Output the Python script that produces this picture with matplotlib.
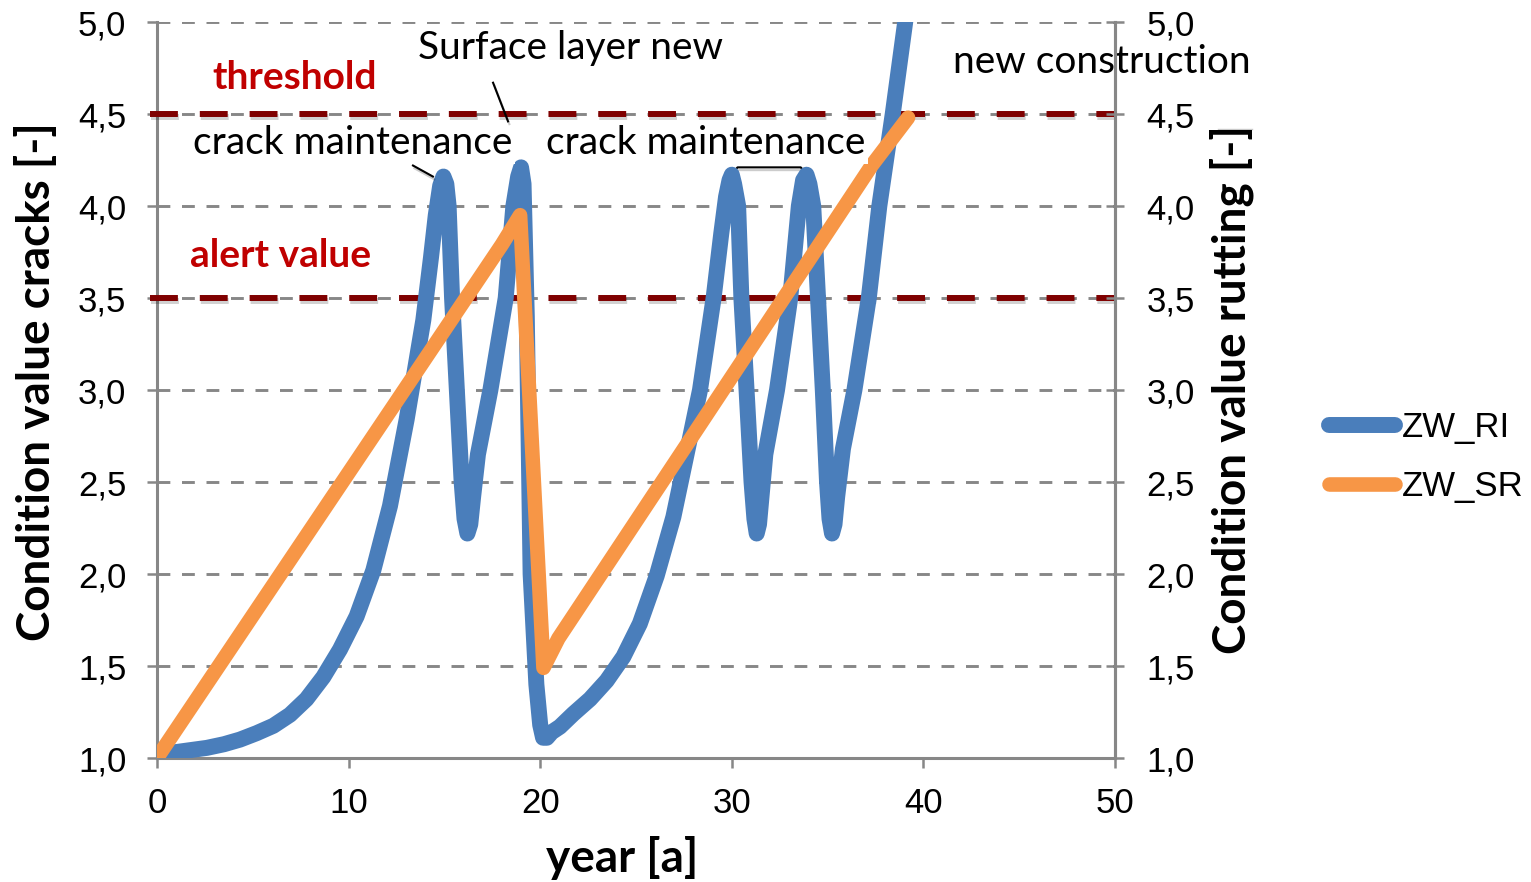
import matplotlib
matplotlib.use('Agg')
import matplotlib.pyplot as plt
import matplotlib.patheffects as pe
from matplotlib.lines import Line2D

# ---------------- data ----------------
years_ri = [0.0, 0.84, 2.6, 3.5, 4.33, 5.2, 6.07, 6.94, 7.8, 8.68, 9.55, 10.42, 11.29, 12.16, 13.03,
            13.9, 14.3, 14.55, 14.78, 14.95, 15.1, 15.22, 15.4, 15.65, 15.9, 16.05, 16.2, 16.35,
            16.5, 16.75, 17.4, 18.2, 18.6, 18.85, 19.0, 19.13, 19.3, 19.5, 19.8, 20.0, 20.15,
            20.35, 20.6, 21.03, 21.73, 22.6, 23.47, 24.34, 25.2, 26.08, 26.95, 27.8, 28.34, 29.05,
            29.45, 29.7, 29.88, 30.0, 30.12, 30.33, 30.5, 30.77, 31.03, 31.18, 31.3, 31.42, 31.55,
            31.75, 32.36, 33.05, 33.5, 33.72, 33.9, 34.05, 34.25, 34.5, 34.75, 34.97, 35.1, 35.23,
            35.36, 35.5, 35.8, 36.4, 37.15, 37.7, 38.4, 39.05, 39.3]
zw_ri = [1.00, 1.03, 1.055, 1.075, 1.10, 1.135, 1.175, 1.235, 1.32, 1.44, 1.59, 1.77, 2.02, 2.37, 2.84,
         3.38, 3.72, 3.95, 4.11, 4.16, 4.12, 4.00, 3.50, 3.00, 2.50, 2.30, 2.22, 2.27,
         2.42, 2.65, 3.00, 3.50, 4.00, 4.16, 4.21, 4.12, 3.40, 2.00, 1.40, 1.18, 1.11,
         1.11, 1.14, 1.17, 1.24, 1.32, 1.42, 1.55, 1.73, 1.99, 2.31, 2.73, 3.00, 3.50,
         3.85, 4.05, 4.14, 4.17, 4.12, 4.00, 3.50, 3.00, 2.50, 2.30, 2.22, 2.27, 2.42,
         2.65, 3.00, 3.50, 4.00, 4.14, 4.17, 4.12, 4.00, 3.50, 3.00, 2.50, 2.30, 2.22,
         2.27, 2.42, 2.68, 3.00, 3.50, 4.00, 4.50, 5.00, 5.20]

years_sr = [0.0, 18.0, 18.95, 20.17, 20.95, 37.3, 39.2]
zw_sr = [1.00, 3.79, 3.95, 1.49, 1.65, 4.22, 4.48]

threshold_value = 4.5
alert_value = 3.5

x_ticks = [0, 10, 20, 30, 40, 50]
y_ticks = [1.0, 1.5, 2.0, 2.5, 3.0, 3.5, 4.0, 4.5, 5.0]
y_ticklabels = ['1,0', '1,5', '2,0', '2,5', '3,0', '3,5', '4,0', '4,5', '5,0']

series_names = ['ZW_RI', 'ZW_SR']
blue = '#4A7EBB'
orange = '#F79646'
darkred = '#7F0000'
red_text = '#C00000'
grey = '#878787'

W, H = 1531, 882
fig = plt.figure(figsize=(W / 100, H / 100), dpi=100)
ax = fig.add_axes([157 / W, 1 - 758 / H, (1115 - 157) / W, (758 - 22) / H])
ax.set_xlim(0, 50)
ax.set_ylim(1.0, 5.0)

# grid
for v in y_ticks[1:]:
    ax.axhline(v, color=grey, lw=2.1, dashes=(4.4, 4.0), zorder=1)

ax.spines['top'].set_visible(False)
for s in ['left', 'bottom', 'right']:
    ax.spines[s].set_color(grey)
    ax.spines[s].set_linewidth(2.2)

tick_font = dict(fontfamily='Liberation Sans', fontsize=25)
ax.set_xticks(x_ticks)
ax.set_xticklabels([str(t) for t in x_ticks], **tick_font)
ax.set_yticks(y_ticks)
ax.set_yticklabels(y_ticklabels, **tick_font)
ax.tick_params(axis='y', direction='out', length=7, width=1.8, color=grey, pad=15)
ax.tick_params(axis='x', direction='out', length=7, width=1.8, color=grey, pad=14)

ax2 = ax.twinx()
ax2.set_ylim(1.0, 5.0)
ax2.set_yticks(y_ticks)
ax2.set_yticklabels(y_ticklabels, **tick_font)
ax2.tick_params(axis='y', direction='inout', length=13, width=1.8, color=grey, pad=16)
for s in ['top', 'left', 'bottom']:
    ax2.spines[s].set_visible(False)
ax2.spines['right'].set_color(grey)
ax2.spines['right'].set_linewidth(2.2)

# threshold lines
shadow = [pe.SimpleLineShadow(offset=(0.5, -2), shadow_color='#000000', alpha=0.18), pe.Normal()]
for v in [threshold_value, alert_value]:
    ax.plot([-0.37, 50], [v, v], color=darkred, lw=4.3, dashes=(4.67, 3.67),
            clip_on=False, zorder=3, path_effects=shadow, dash_capstyle='butt')

# series
l_ri, = ax.plot(years_ri, zw_ri, color=blue, lw=11.5, solid_capstyle='round',
                solid_joinstyle='round', zorder=4, label=series_names[0])
l_sr, = ax.plot(years_sr, zw_sr, color=orange, lw=10.5, solid_capstyle='round',
                solid_joinstyle='round', zorder=5, label=series_names[1])

# annotations
ann_font = dict(fontfamily='Lato', fontsize=28, ha='center', va='center', zorder=6)
ax.text(7.2, 4.70, 'threshold', color=red_text, fontweight='bold', **ann_font)
ax.text(6.47, 3.73, 'alert value', color=red_text, fontweight='bold', **ann_font)
ax.text(21.6, 4.86, 'Surface layer new', color='black', **ann_font)
bbox = dict(facecolor='white', edgecolor='none', pad=2)
ax.text(10.2, 4.34, 'crack maintenance', color='black', bbox=bbox, **ann_font)
ax.text(28.65, 4.34, 'crack maintenance', color='black', bbox=bbox, **ann_font)
ax.text(49.3, 4.78, 'new construction', color='black', clip_on=False, **ann_font)

lshadow = [pe.SimpleLineShadow(offset=(1, -2), shadow_color='#000000', alpha=0.2), pe.Normal()]
ax.plot([17.54, 18.32], [4.67, 4.46], color='black', lw=1.5, zorder=6, path_effects=lshadow)
ax.plot([13.36, 14.4], [4.22, 4.16], color='black', lw=1.5, zorder=6, path_effects=lshadow)
ax.plot([30.05, 30.3, 33.6, 33.85], [4.18, 4.21, 4.21, 4.18], color='black', lw=1.5,
        zorder=3.5, path_effects=lshadow)

# axis labels
title_font = dict(fontfamily='Lato', fontweight='bold', fontsize=33, ha='center', va='center')
fig.text(37 / W, 1 - 382 / H, 'Condition value cracks [-]', rotation=90, **title_font)
fig.text(1232 / W, 1 - 390 / H, 'Condition value rutting [-]', rotation=90, **title_font)
fig.text(622 / W, 1 - 858 / H, 'year [a]', **title_font)

# faint line near right label
fig.add_artist(Line2D([1218 / W, 1252 / W], [1 - 129 / H, 1 - 129 / H], color='#c8c8c8', lw=1))

# legend
fig.legend(handles=[l_ri, l_sr], loc='center left', bbox_to_anchor=(1329 / W, 1 - 457 / H),
           frameon=False, prop={'family': 'Liberation Sans', 'size': 25},
           handlelength=1.9, handletextpad=0.2, labelspacing=0.75, borderpad=0, borderaxespad=0)

fig.savefig('out.png', dpi=100)
